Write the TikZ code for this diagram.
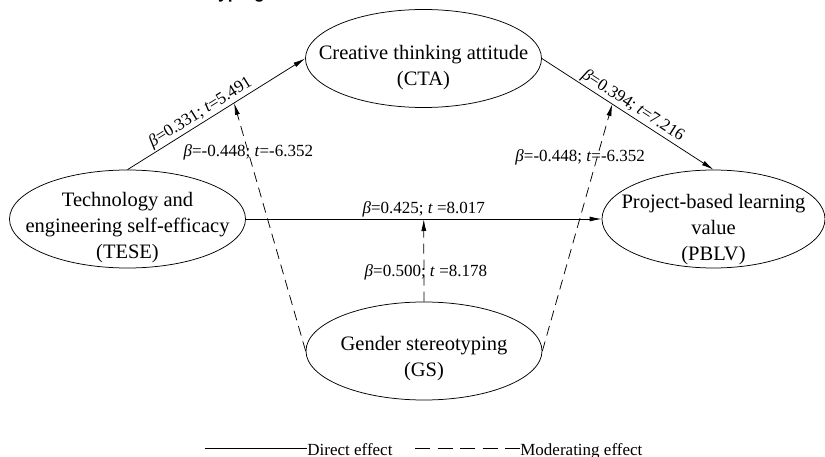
\documentclass[tikz,border=0pt]{standalone}
\usepackage{fontspec}
\setmainfont{Liberation Serif}
\setsansfont{Liberation Sans}
\usetikzlibrary{arrows.meta,shapes.geometric}

\begin{document}
\begin{tikzpicture}[x=1pt,y=-1pt,line cap=butt,line join=miter,>={Latex[length=12pt,width=5pt]},line width=0.75pt]
	\tikzset{var/.style={draw,ellipse,inner sep=0pt,minimum width=236pt,minimum height=98pt},
		vartxt/.style={align=center,inner sep=0pt,font=\fontsize{20.5}{26}\selectfont},
		lab/.style={font=\fontsize{17}{20}\selectfont,inner sep=1.5pt},
		mod/.style={dash pattern=on 10pt off 6pt}
	}
	\useasboundingbox (0,0) rectangle (825,457);
	\node[anchor=base west,inner sep=0pt,font=\sffamily\bfseries\fontsize{17.5}{20}\selectfont] (cap) at (212,-1) {typing};
	\node[var] (CTA) at (423.5,58.5) {};
	\node[var] (TESE) at (127.5,219) {};
	\node[var,minimum width=223pt] (PBLV) at (713.5,219) {};
	\node[var] (GS) at (424,351) {};
	\node[vartxt] (CTAt) at ([yshift=-9pt]CTA.center) {Creative thinking attitude\\(CTA)};
	\node[vartxt] (TESEt) at ([yshift=-9pt]TESE.center) {Technology and\\engineering self-efficacy\\(TESE)};
	\node[vartxt] (PBLVt) at ([yshift=-11pt]PBLV.center) {Project-based learning\\value\\(PBLV)};
	\node[vartxt] (GSt) at ([yshift=-8pt]GS.center) {Gender stereotyping\\(GS)};
	\draw[->] (TESE.north) -- (CTA.west) node[lab,sloped,above,pos=0.44] (l1) {\textit{β}=0.331; \textit{t}=5.491} coordinate[pos=0.6] (m1);
	\draw[->] (CTA.east) -- (PBLV.north) node[lab,sloped,above,pos=0.5] (l2) {\textit{β}=0.394; \textit{t}=7.216} coordinate[pos=0.41] (m2);
	\draw[->] (TESE.east) -- (PBLV.west) node[lab,above,pos=0.5] (l3) {\textit{β}=0.425;\ \textit{t} =8.017} coordinate[pos=0.5] (m3);
	\draw[->,mod] (GS.west) -- (m1) node[lab,pos=0.8] (l4) {\textit{β}=-0.448; \textit{t}=-6.352};
	\draw[->,mod] (GS.east) -- (m2) node[lab,pos=0.785,xshift=-17pt] (l5) {\textit{β}=-0.448; \textit{t}=-6.352};
	\draw[->,mod] (GS.north) -- (m3) node[lab,pos=0.36,xshift=2pt] (l6) {\textit{β}=0.500;\ \textit{t} =8.178};
	\coordinate (d0) at (205,448);
	\node[lab,anchor=base west,inner sep=0pt] (ldir) at (307,455) {Direct effect};
	\draw (d0) -- (d0 -| ldir.west);
	\coordinate (e0) at (415,448);
	\node[lab,anchor=base west,inner sep=0pt] (lmod) at (520,455) {Moderating effect};
	\draw[dash pattern=on 15pt off 7.5pt] (e0) -- (e0 -| lmod.west);
\end{tikzpicture}
\end{document}
